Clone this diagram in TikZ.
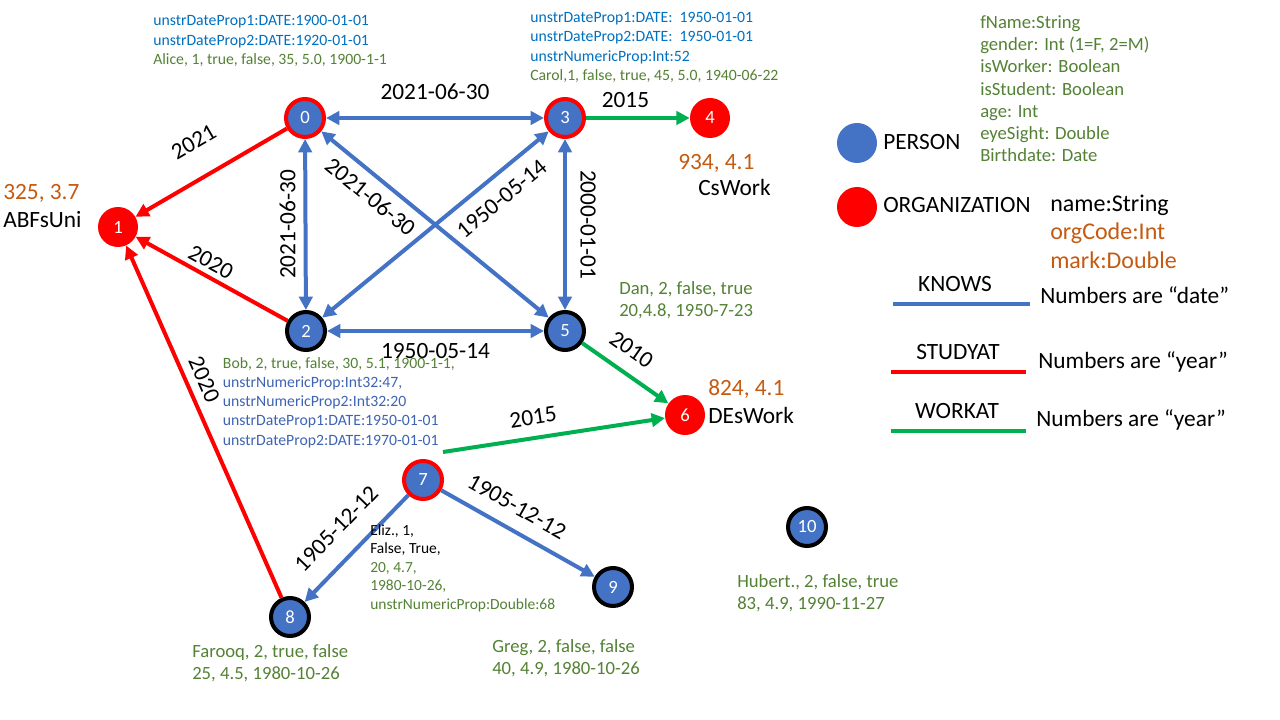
\documentclass[tikz,border=0pt]{standalone}
\usepackage{fontspec}
\setmainfont{Carlito}
\usetikzlibrary{arrows.meta}
\definecolor{pblue}{HTML}{4472C4}
\definecolor{ored}{HTML}{FF0000}
\definecolor{wgreen}{HTML}{00B050}
\definecolor{tgreen}{HTML}{548235}
\definecolor{torange}{HTML}{C55A11}
\definecolor{tblue}{HTML}{0070C0}
\definecolor{tblueb}{HTML}{3E64B4}
\newcommand\textline[1]{\hbox{#1}}
\tikzset{
  pnode/.style={circle, draw=#1, fill=pblue, line width=3pt, minimum size=28.5pt, inner sep=0pt, text=white, font=\fontsize{14}{16}\selectfont},
  onode/.style={circle, fill=ored, minimum size=30pt, inner sep=0pt, text=white, font=\fontsize{14}{16}\selectfont},
  lcirc/.style={circle, fill=#1, minimum size=30pt, inner sep=0pt},
  knows/.style={draw=pblue, line width=3pt, {Triangle[length=10pt,width=10pt]}-{Triangle[length=10pt,width=10pt]}},
  knowsone/.style={draw=pblue, line width=3pt, -{Triangle[length=10pt,width=10pt]}},
  study/.style={draw=ored, line width=3pt, -{Triangle[length=10pt,width=10pt]}},
  work/.style={draw=wgreen, line width=3pt, -{Triangle[length=10pt,width=10pt]}},
  legline/.style={line width=3pt, draw=#1},
  elabel/.style={font=\fontsize{17.5}{21}\selectfont, inner sep=0pt, text=black},
  smalltxt/.style={font=\fontsize{11.8}{14.4}\selectfont, inner sep=0pt, anchor=base west},
  tinytxt/.style={font=\fontsize{11.6}{13.9}\selectfont, inner sep=0pt, anchor=base west},
  midtxt/.style={font=\fontsize{14}{17.1}\selectfont, inner sep=0pt, anchor=base west, text=tgreen},
  attrtxt/.style={font=\fontsize{14}{16.7}\selectfont, inner sep=0pt, anchor=base west, text=tgreen},
  bigtxt/.style={font=\fontsize{17.5}{21}\selectfont, inner sep=0pt, anchor=base west},
  bigctr/.style={font=\fontsize{17.5}{21}\selectfont, inner sep=0pt, anchor=base},
  nametxt/.style={font=\fontsize{18}{21.2}\selectfont, inner sep=0pt, anchor=base west},
}
\begin{document}
\begin{tikzpicture}[x=0.75pt,y=-0.75pt]
\fill[white] (0,0) rectangle (1280,720);
\useasboundingbox (0,0) rectangle (1280,720);

% nodes
\node[pnode=ored] (n0) at (305,118) {0};
\node[onode] (n1) at (118,227) {1};
\node[pnode=black] (n2) at (306,331) {2};
\node[pnode=ored] (n3) at (565,118) {3};
\node[onode] (n4) at (710,118) {4};
\node[pnode=black] (n5) at (565,331) {5};
\node[onode] (n6) at (685,415) {6};
\node[pnode=ored] (n7) at (423,480) {7};
\node[pnode=black] (n8) at (290,617) {8};
\node[pnode=black] (n9) at (613,587) {9};
\node[pnode=black] (n10) at (807,527) {10};
\coordinate (w7) at (443,452);

% KNOWS edges
\draw[knows] (n0) -- node[elabel, above=12pt] {2021-06-30} (n3);
\draw[knows] (n0) -- node[elabel, left=6pt] {\rotatebox{90}{2021-06-30}} (n2);
\draw[knows] (n3) -- node[elabel, right=10pt] {\rotatebox{-90}{2000-01-01}} (n5);
\draw[knows] (n2) -- node[elabel, below=7.5pt] {1950-05-14} (n5);
\draw[knows] (n0) -- node[elabel, sloped, below=7pt, pos=0.27] {2021-06-30} (n5);
\draw[knows] (n2) -- node[elabel, sloped, below=9.3pt, pos=0.73] {1950-05-14} (n3);
\draw[knowsone] (n7) -- node[elabel, sloped, above=14pt] {1905-12-12} (n8);
\draw[knowsone] (n7) -- node[elabel, sloped, above=10pt, pos=0.42] {1905-12-12} (n9);

% STUDYAT edges
\draw[study] (n0) -- node[elabel, sloped, above=19pt] {2021} (n1);
\draw[study] (n2) -- node[elabel, sloped, above=3.5pt, pos=0.55] {2020} (n1);
\draw[study] (n8) -- node[elabel, sloped, above=5.8pt, pos=0.6] {2020} (n1);

% WORKAT edges
\draw[work] (n3) -- node[elabel, above=6pt, pos=0.38] {2015} (n4);
\draw[work] (n5) -- node[elabel, sloped, above=10pt, pos=0.42] {2010} (n6);
\draw[work] (w7) -- node[elabel, sloped, above=8.3pt, pos=0.42] {2015} (n6);

% property texts
\node[smalltxt] (talice) at (153,26) {\vtop{\textline{\color{tblue}unstrDateProp1:DATE:1900-01-01}
  \textline{\color{tblue}unstrDateProp2:DATE:1920-01-01}
  \textline{\color{tgreen}Alice, 1, true, false, 35, 5.0, 1900-1-1}}};
\node[smalltxt] (tcarol) at (530,22.7) {\vtop{\textline{\color{tblue}unstrDateProp1:DATE:~ 1950-01-01}
  \textline{\color{tblue}unstrDateProp2:DATE:~ 1950-01-01}
  \textline{\color{tblue}unstrNumericProp:Int:52}
  \textline{\color{tgreen}Carol,1, false, true, 45, 5.0, 1940-06-22}}};
\node[smalltxt] (tbob) at (222.7,368.3) {\vtop{\textline{\color{tgreen}Bob, 2, true, false, 30, 5.1, 1900-1-1,}
  \textline{\color{tblueb}unstrNumericProp:Int32:47,}
  \textline{\color{tblueb}unstrNumericProp2:Int32:20}
  \textline{\color{tblueb}unstrDateProp1:DATE:1950-01-01}
  \textline{\color{tblueb}unstrDateProp2:DATE:1970-01-01}}};
\node[tinytxt] (teliz) at (370,535) {\vtop{\textline{Eliz., 1,}
  \textline{False, True,}
  \textline{\color{tgreen}20, 4.7,}
  \textline{\color{tgreen}1980-10-26,}
  \textline{\color{tgreen}unstrNumericProp:Double:68}}};
\node[midtxt] (tdan) at (619,294) {\vtop{\textline{Dan, 2, false, true}\textline{20,4.8, 1950-7-23}}};
\node[midtxt] (tfarooq) at (192,657) {\vtop{\textline{Farooq, 2, true, false}\textline{25, 4.5, 1980-10-26}}};
\node[midtxt] (tgreg) at (492,652) {\vtop{\textline{Greg, 2, false, false}\textline{40, 4.9, 1980-10-26}}};
\node[midtxt] (thubert) at (737,587) {\vtop{\textline{Hubert., 2, false, true}\textline{83, 4.9, 1990-11-27}}};

% organization labels
\node[bigtxt, text=torange] (o1a) at (3,200) {325, 3.7};
\node[bigtxt] (o1b) at (3,228) {ABFsUni};
\node[bigtxt, text=torange] (o4a) at (678,170) {934, 4.1};
\node[bigtxt] (o4b) at (698,196) {CsWork};
\node[bigtxt, text=torange] (o6a) at (708,395) {824, 4.1};
\node[bigtxt] (o6b) at (708,423) {DEsWork};

% legend
\node[lcirc=pblue] (lp) at (857,143) {};
\node[bigtxt] (lptext) at (883,150) {PERSON};
\node[lcirc=ored] (lo) at (857,207) {};
\node[bigtxt] (lotext) at (883,213) {ORGANIZATION};
\node[attrtxt] (attrs) at (980,28.3) {\vtop{\textline{fName:String}\textline{gender: Int (1=F, 2=M)}\textline{isWorker: Boolean}\textline{isStudent: Boolean}\textline{age: Int}\textline{eyeSight: Double}\textline{Birthdate: Date}}};
\node[nametxt] (oattrs) at (1050,211.7) {\vtop{\textline{name:String}\textline{\color{torange}orgCode:Int}\textline{\color{torange}mark:Double}}};

\node[bigctr] (lknows) at (955,291.7) {KNOWS};
\coordinate (k1) at (893,304);
\coordinate (k2) at (1030,304);
\draw[legline=pblue] (k1) -- (k2);
\node[bigtxt] (lknowst) at (1040,303.3) {Numbers are “date”};

\node[bigctr] (lstudy) at (958,359) {STUDYAT};
\coordinate (s1) at (891,372);
\coordinate (s2) at (1026,372);
\draw[legline=ored] (s1) -- (s2);
\node[bigtxt] (lstudyt) at (1038,368) {Numbers are “year”};

\node[bigctr] (lwork) at (957,418) {WORKAT};
\coordinate (g1) at (891,431);
\coordinate (g2) at (1026,431);
\draw[legline=wgreen] (g1) -- (g2);
\node[bigtxt] (lworkt) at (1036,426.7) {Numbers are “year”};
\end{tikzpicture}
\end{document}
